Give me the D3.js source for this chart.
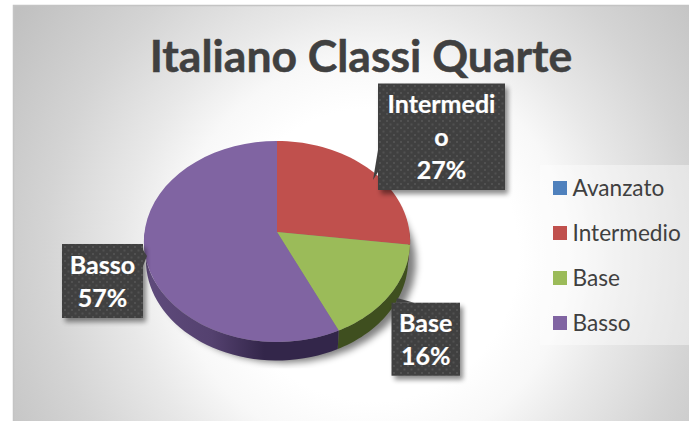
<!DOCTYPE html>
<html><head><meta charset="utf-8">
<script src="https://cdn.jsdelivr.net/npm/d3@7"></script>
<style>html,body{margin:0;padding:0;background:#fff;overflow:hidden}svg{display:block}</style>
</head><body><div id="c"></div>
<script>
const categories = ["Avanzato","Intermedio","Base","Basso"];
const values = [0,27,16,57];
const colors = ["#4F81BD","#C0504D","#9BBB59","#8064A2"];
const sideColors = ["#2a4060","#5e2725","#3f4f1f","#33264a"];
const titleText = "Italiano Classi Quarte";

const W=689,H=421;
const svg=d3.select("#c").append("svg").attr("width",W).attr("height",H);
const defs=svg.append("defs");

// background
const bg=defs.append("radialGradient").attr("id","bg").attr("gradientUnits","userSpaceOnUse")
  .attr("cx",372).attr("cy",255).attr("r",430);
[[0,"#ffffff"],[0.34,"#ffffff"],[0.46,"#f8f8f8"],[0.58,"#e8e8e8"],[0.76,"#d4d4d4"],[0.84,"#cdcdcd"],[1,"#c0c0c0"]]
  .forEach(s=>bg.append("stop").attr("offset",s[0]).attr("stop-color",s[1]));
svg.append("rect").attr("x",14).attr("y",6).attr("width",W-14).attr("height",H-6).attr("fill","url(#bg)");
svg.append("path").attr("d",`M13.5 421V5.5H${W}`).attr("fill","none").attr("stroke","#c4c4c4").attr("stroke-width",1.5);

// filters
const sh=defs.append("filter").attr("id","pieShadow").attr("x","-20%").attr("y","-20%").attr("width","140%").attr("height","140%");
sh.append("feGaussianBlur").attr("stdDeviation",3.5);
const bs=defs.append("filter").attr("id","boxShadow").attr("x","-20%").attr("y","-20%").attr("width","140%").attr("height","140%");
bs.append("feGaussianBlur").attr("stdDeviation",2.5);

// dots pattern
const pat=defs.append("pattern").attr("id","dots").attr("patternUnits","userSpaceOnUse").attr("width",7).attr("height",7);
pat.append("rect").attr("width",7).attr("height",7).attr("fill","#404040");
pat.append("rect").attr("x",1).attr("y",1).attr("width",2).attr("height",2).attr("fill","#515151");
pat.append("rect").attr("x",4.5).attr("y",4.5).attr("width",2).attr("height",2).attr("fill","#515151");

// pie in perspective
const cx=277,cy=232,k=0.0945,ay=99.6,bx=132.5,depth=18.5,shrink=0.985;
const proj=(t,dz=0)=>{const X=Math.sin(t),Y=-Math.cos(t),w=1-k*Y,s=dz?shrink:1;
  return [cx+s*bx*X/w, cy+ay*Y/w+dz];};
const arcs=d3.pie().sort(null)(values);
const line=d3.line();
const samples=(a,b)=>d3.range(0,41).map(i=>a+(b-a)*i/40);

// shadow
const allT=samples(0,2*Math.PI);
const clip=defs.append("clipPath").attr("id","shClip");
clip.append("rect").attr("x",0).attr("y",0).attr("width",W).attr("height",368.5);
svg.append("g").attr("clip-path","url(#shClip)").append("path")
  .attr("d",line(allT.map(t=>{const p=proj(t,depth);return [p[0]+8,p[1]+2.5];}))+"Z")
  .attr("fill","#000").attr("opacity",.5).attr("filter","url(#pieShadow)");

// side wall
const sideGrad=defs.append("linearGradient").attr("id","sideBasso").attr("gradientUnits","userSpaceOnUse")
  .attr("x1",144).attr("x2",338).attr("y1",0).attr("y2",0);
[[0,"#5f4b7c"],[0.35,"#54416f"],[0.62,"#33264a"],[1,"#33264a"]].forEach(s=>sideGrad.append("stop").attr("offset",s[0]).attr("stop-color",s[1]));
arcs.forEach((d,i)=>{
  if(d.endAngle===d.startAngle) return;
  const a=Math.max(d.startAngle,Math.PI/2),b=Math.min(d.endAngle,Math.PI*1.5);
  if(b<=a) return;
  const T=samples(a,b);
  const pts=T.map(t=>proj(t)).concat(T.slice().reverse().map(t=>proj(t,depth)));
  svg.append("path").attr("d",line(pts)+"Z")
    .attr("fill",categories[i]==="Basso"?"url(#sideBasso)":sideColors[i]);
});
// top faces
arcs.forEach((d,i)=>{
  if(d.endAngle===d.startAngle) return;
  const pts=[[cx,cy]].concat(samples(d.startAngle,d.endAngle).map(t=>proj(t)));
  svg.append("path").attr("d",line(pts)+"Z").attr("fill",colors[i]);
});

// title
svg.append("text").attr("x",361).attr("y",71.5).attr("text-anchor","middle")
  .attr("font-family","Lato").attr("font-weight",700).attr("font-size",44.5).attr("fill","#404040")
  .attr("stroke","#404040").attr("stroke-width",.5).text(titleText);

// legend
svg.append("rect").attr("x",540).attr("y",165).attr("width",149).attr("height",180).attr("fill","#fff").attr("opacity",.4);
const legendY=d3.scalePoint().domain(categories).range([188,323]);
const lg=svg.append("g").selectAll("g").data(categories).join("g").attr("transform",d=>`translate(553,${legendY(d)})`);
lg.append("rect").attr("y",-7).attr("width",14).attr("height",14).attr("fill",(d,i)=>colors[i]);
lg.append("text").attr("x",19.5).attr("y",8).attr("font-family","Lato").attr("font-size",22.6).attr("fill","#404040").text(d=>d);

// data labels
const total=d3.sum(values);
const pct=v=>Math.round(v/total*100)+"%";
const boxes=[
 {i:1,x:378,y:83.5,w:127,h:106.5,lines:["Intermedi","o"],tip:[373,180],base:[[378,150],[378,172]]},
 {i:2,x:391.5,y:302.7,w:68.5,h:73,lines:["Base"],tip:[397,298],base:[[396,302.7],[414,302.7]]},
 {i:3,x:62,y:244,w:81,h:74,lines:["Basso"],tip:[147,256],base:[[143,250],[143,266]]}
];
boxes.forEach(b=>{
  const g=svg.append("g");
  g.append("rect").attr("x",b.x+3).attr("y",b.y+4).attr("width",b.w).attr("height",b.h).attr("fill","#000").attr("opacity",.45).attr("filter","url(#boxShadow)");
  g.append("path").attr("d",line([b.tip,b.base[0],b.base[1]])+"Z").attr("fill","#404040");
  g.append("rect").attr("x",b.x).attr("y",b.y).attr("width",b.w).attr("height",b.h).attr("fill","url(#dots)");
  const lines=b.lines.concat([pct(values[b.i])]);
  const lh=33;
  const y0=b.y+b.h/2-(lines.length-1)*lh/2+9.5;
  lines.forEach((t,j)=>g.append("text").attr("x",b.x+b.w/2).attr("y",y0+j*lh).attr("text-anchor","middle")
    .attr("font-family","Lato").attr("font-weight",700).attr("font-size",25).attr("fill","#fff")
    .attr("stroke","#fff").attr("stroke-width",.2).text(t));
});
</script></body></html>
